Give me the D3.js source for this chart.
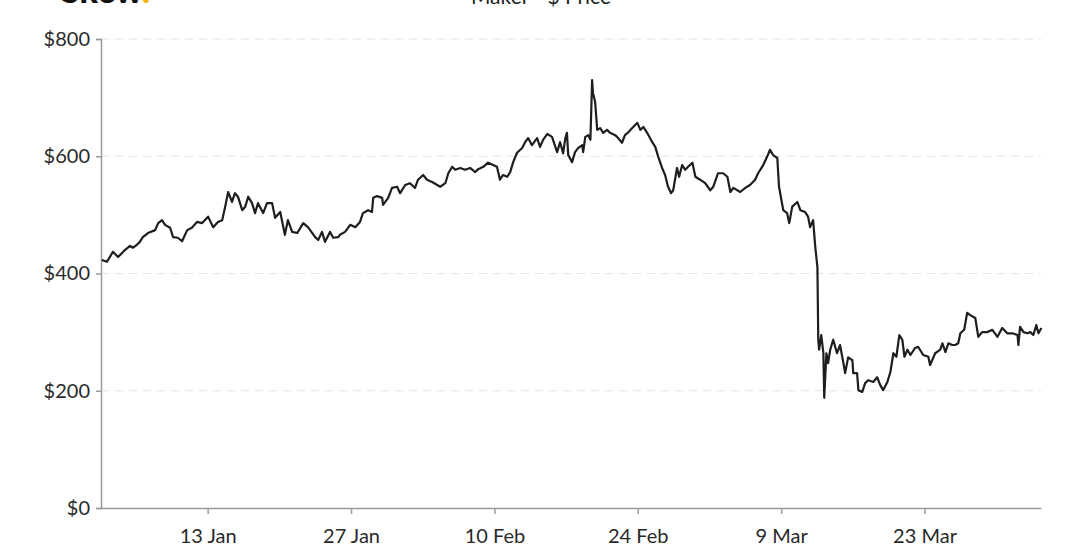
<!DOCTYPE html>
<html>
<head>
<meta charset="utf-8">
<script src="https://cdn.jsdelivr.net/npm/d3@7"></script>
<style>
  html, body { margin: 0; padding: 0; background: #fff; }
  svg { display: block; font-family: Lato, "Open Sans", sans-serif; }
</style>
</head>
<body>
<svg id="chart" width="1080" height="555"></svg>
<script>
const chartTitle = "Maker - $ Price";
const logoText = "Skew";

const dates = [
"2020-01-02 16:00","2020-01-03 04:00","2020-01-03 18:00","2020-01-04 06:00","2020-01-04 22:00","2020-01-05 10:00","2020-01-05 17:00","2020-01-06 02:00","2020-01-06 09:00","2020-01-06 16:00",
"2020-01-07 04:00","2020-01-07 21:00","2020-01-08 04:00","2020-01-08 13:00","2020-01-08 20:00","2020-01-09 08:00","2020-01-09 15:00","2020-01-10 02:00","2020-01-10 12:00","2020-01-11 00:00",
"2020-01-11 11:00","2020-01-11 23:00","2020-01-12 11:00","2020-01-13 01:00","2020-01-13 13:00","2020-01-14 00:00","2020-01-14 10:00","2020-01-14 17:00","2020-01-15 00:00","2020-01-15 09:00",
"2020-01-15 16:00","2020-01-15 23:00","2020-01-16 09:00","2020-01-16 16:00","2020-01-16 23:00","2020-01-17 08:00","2020-01-17 15:00","2020-01-17 22:00","2020-01-18 10:00","2020-01-18 19:00",
"2020-01-19 07:00","2020-01-19 14:00","2020-01-20 02:00","2020-01-20 13:00","2020-01-20 20:00","2020-01-21 06:00","2020-01-21 18:00","2020-01-22 08:00","2020-01-22 19:00","2020-01-23 12:00",
"2020-01-23 19:00","2020-01-24 04:00","2020-01-24 11:00","2020-01-24 23:00","2020-01-25 06:00","2020-01-25 18:00","2020-01-25 22:00","2020-01-26 10:00","2020-01-26 22:00","2020-01-27 10:00",
"2020-01-27 21:00","2020-01-28 04:00","2020-01-28 16:00","2020-01-29 01:00","2020-01-29 04:00","2020-01-29 13:00","2020-01-30 01:00","2020-01-30 03:00","2020-01-30 15:00","2020-01-31 00:00",
"2020-01-31 12:00","2020-01-31 19:00","2020-02-01 07:00","2020-02-01 18:00","2020-02-02 06:00","2020-02-02 13:00","2020-02-03 01:00","2020-02-03 10:00","2020-02-03 22:00","2020-02-04 10:00",
"2020-02-04 17:00","2020-02-05 05:00","2020-02-05 12:00","2020-02-05 21:00","2020-02-06 04:00","2020-02-06 16:00","2020-02-07 03:00","2020-02-07 15:00","2020-02-08 03:00","2020-02-08 10:00",
"2020-02-08 22:00","2020-02-09 09:00","2020-02-09 21:00","2020-02-10 06:00","2020-02-10 13:00","2020-02-10 20:00","2020-02-11 06:00","2020-02-11 13:00","2020-02-11 20:00","2020-02-12 05:00",
"2020-02-12 17:00","2020-02-13 00:00","2020-02-13 07:00","2020-02-13 16:00","2020-02-14 04:00","2020-02-14 11:00","2020-02-14 18:00","2020-02-15 04:00","2020-02-15 15:00","2020-02-16 03:00",
"2020-02-16 10:00","2020-02-16 17:00","2020-02-16 22:00","2020-02-17 02:00","2020-02-17 05:00","2020-02-17 14:00","2020-02-17 21:00","2020-02-18 04:00","2020-02-18 14:00","2020-02-18 16:00",
"2020-02-18 21:00","2020-02-19 04:00","2020-02-19 09:00","2020-02-19 13:00","2020-02-19 15:00","2020-02-19 20:00","2020-02-20 01:00","2020-02-20 08:00","2020-02-20 15:00","2020-02-21 00:00",
"2020-02-21 07:00","2020-02-21 19:00","2020-02-22 02:00","2020-02-22 11:00","2020-02-22 18:00","2020-02-23 02:00","2020-02-23 11:00","2020-02-23 23:00","2020-02-24 06:00","2020-02-24 13:00",
"2020-02-24 22:00","2020-02-25 10:00","2020-02-25 17:00","2020-02-26 00:00","2020-02-26 09:00","2020-02-26 16:00","2020-02-26 23:00","2020-02-27 06:00","2020-02-27 11:00","2020-02-27 20:00",
"2020-02-28 01:00","2020-02-28 08:00","2020-02-28 15:00","2020-02-28 22:00","2020-02-29 08:00","2020-02-29 15:00","2020-03-01 02:00","2020-03-01 14:00","2020-03-02 02:00","2020-03-02 09:00",
"2020-03-02 20:00","2020-03-03 08:00","2020-03-03 18:00","2020-03-04 01:00","2020-03-04 08:00","2020-03-05 00:00","2020-03-05 12:00","2020-03-05 23:00","2020-03-06 11:00","2020-03-06 18:00",
"2020-03-07 06:00","2020-03-07 15:00","2020-03-07 22:00","2020-03-08 05:00","2020-03-08 15:00","2020-03-08 19:00","2020-03-09 05:00","2020-03-09 14:00","2020-03-09 19:00","2020-03-10 02:00",
"2020-03-10 14:00","2020-03-10 21:00","2020-03-11 08:00","2020-03-11 15:00","2020-03-11 20:00","2020-03-12 03:00","2020-03-12 08:00","2020-03-12 13:00","2020-03-12 15:00","2020-03-12 17:00",
"2020-03-12 22:00","2020-03-13 03:00","2020-03-13 05:00","2020-03-13 10:00","2020-03-13 14:00","2020-03-13 19:00","2020-03-14 02:00","2020-03-14 11:00","2020-03-14 18:00","2020-03-15 02:00",
"2020-03-15 06:00","2020-03-15 13:00","2020-03-15 23:00","2020-03-16 01:00","2020-03-16 10:00","2020-03-16 13:00","2020-03-16 22:00","2020-03-17 05:00","2020-03-17 12:00","2020-03-18 00:00",
"2020-03-18 09:00","2020-03-18 16:00","2020-03-18 23:00","2020-03-19 09:00","2020-03-19 16:00","2020-03-19 23:00","2020-03-20 06:00","2020-03-20 13:00","2020-03-20 20:00","2020-03-21 01:00",
"2020-03-21 08:00","2020-03-21 15:00","2020-03-22 02:00","2020-03-22 09:00","2020-03-22 21:00","2020-03-23 09:00","2020-03-23 13:00","2020-03-24 01:00","2020-03-24 13:00","2020-03-24 18:00",
"2020-03-25 01:00","2020-03-25 08:00","2020-03-25 17:00","2020-03-26 00:00","2020-03-26 07:00","2020-03-26 12:00","2020-03-26 21:00","2020-03-27 04:00","2020-03-27 11:00","2020-03-27 23:00",
"2020-03-28 06:00","2020-03-28 15:00","2020-03-29 03:00","2020-03-29 15:00","2020-03-30 03:00","2020-03-30 14:00","2020-03-31 02:00","2020-03-31 14:00","2020-04-01 02:00","2020-04-01 04:00",
"2020-04-01 08:00","2020-04-01 16:00","2020-04-02 01:00","2020-04-02 08:00","2020-04-02 15:00","2020-04-02 22:00","2020-04-03 03:00","2020-04-03 10:00"
];

const prices = [
423,420,437,428,440,447,444,449,454,462,
469,474,486,491,483,478,462,461,455,474,
478,488,486,497,479,488,491,514,539,522,
537,531,508,514,531,520,503,520,503,520,
520,495,505,466,491,471,469,486,479,462,
457,471,454,471,461,462,466,471,483,479,
488,503,508,505,529,532,529,517,529,546,
548,537,551,554,546,560,568,560,556,551,
548,554,571,582,577,580,577,580,573,578,
582,589,585,582,560,568,565,573,590,606,
614,624,631,619,631,616,628,638,633,607,
624,605,630,640,602,590,607,614,619,607,
633,636,628,730,708,693,645,648,640,645,
640,636,631,623,636,641,648,657,645,650,
640,624,616,599,580,568,548,537,542,580,
565,585,577,582,589,565,560,554,542,548,
571,571,565,539,546,539,546,551,560,571,
585,599,611,602,597,548,508,503,486,514,
522,508,505,497,479,491,445,411,287,270,
295,264,188,264,247,270,287,264,278,247,
230,257,252,230,230,201,198,213,218,215,
223,210,201,215,232,264,258,295,287,258,
270,261,273,275,261,258,244,264,270,281,
266,281,278,278,281,298,304,333,329,324,
292,300,300,304,292,307,298,298,295,278,
309,300,298,300,295,312,298,307
];

const xDomain = ["2020-01-02 14:00", "2020-04-03 09:00"];
const xTickDates = ["2020-01-13", "2020-01-27", "2020-02-10", "2020-02-24", "2020-03-09", "2020-03-23"];
const xTickLabels = ["13 Jan", "27 Jan", "10 Feb", "24 Feb", "9 Mar", "23 Mar"];
const yTicks = [0, 200, 400, 600, 800];
const yDomain = [0, 800];

const parseT = d3.timeParse("%Y-%m-%d %H:%M");
const parseD = d3.timeParse("%Y-%m-%d");
const data = dates.map((d, i) => ({ t: parseT(d), v: prices[i] }));

const margin = { left: 101, right: 39, top: 39, bottom: 47 };
const W = 1080, H = 555;
const svg = d3.select("#chart");

const x = d3.scaleTime().domain(xDomain.map(parseT)).range([margin.left, W - margin.right]);
const y = d3.scaleLinear().domain(yDomain).range([H - margin.bottom, margin.top]);

// grid
svg.append("g")
  .selectAll("line")
  .data(yTicks.filter(v => v > 0))
  .join("line")
  .attr("x1", margin.left).attr("x2", W - margin.right)
  .attr("y1", d => y(d)).attr("y2", d => y(d))
  .attr("stroke", "#e3e3e3").attr("stroke-width", 1.2)
  .attr("stroke-dasharray", "8,6");

// y axis
const yAxis = svg.append("g")
  .attr("transform", `translate(${margin.left},0)`)
  .call(d3.axisLeft(y).tickValues(yTicks).tickFormat(d => "$" + d).tickSize(5).tickPadding(6));
yAxis.select(".domain").attr("stroke", "#9a9a9a").attr("stroke-width", 1.5);
yAxis.selectAll(".tick line").attr("stroke", "#9a9a9a").attr("stroke-width", 1.5);
yAxis.selectAll("text").attr("fill", "#2a2a2a").style("font-size", "20px").style("font-family", "Lato");

// x axis
const xAxis = svg.append("g")
  .attr("transform", `translate(0,${H - margin.bottom})`)
  .call(d3.axisBottom(x).tickValues(xTickDates.map(parseD))
        .tickFormat((d, i) => xTickLabels[i]).tickSize(6).tickPadding(15).tickSizeOuter(0));
xAxis.select(".domain").attr("stroke", "#9a9a9a").attr("stroke-width", 1.5);
xAxis.selectAll(".tick line").attr("stroke", "#9a9a9a").attr("stroke-width", 1.5);
xAxis.selectAll("text").attr("fill", "#2a2a2a").style("font-size", "20px").style("font-family", "Lato");

// line
const line = d3.line().x(d => x(d.t)).y(d => y(d.v));
svg.append("path")
  .datum(data)
  .attr("d", line)
  .attr("fill", "none")
  .attr("stroke", "#1e1e1e")
  .attr("stroke-width", 2.2)
  .attr("stroke-linejoin", "round");

// title (cut off at top, as in the reference)
svg.append("text")
  .attr("x", 541).attr("y", 4)
  .attr("text-anchor", "middle")
  .attr("fill", "#222")
  .style("font-size", "21px")
  .text(chartTitle);

// logo (cut off at top, as in the reference)
const logo = svg.append("text")
  .attr("x", 61).attr("y", 3)
  .attr("fill", "#111")
  .style("font-size", "34px").style("font-weight", "900");
logo.append("tspan").text(logoText);
logo.append("tspan").attr("fill", "#f5b400").text(".");
</script>
</body>
</html>
